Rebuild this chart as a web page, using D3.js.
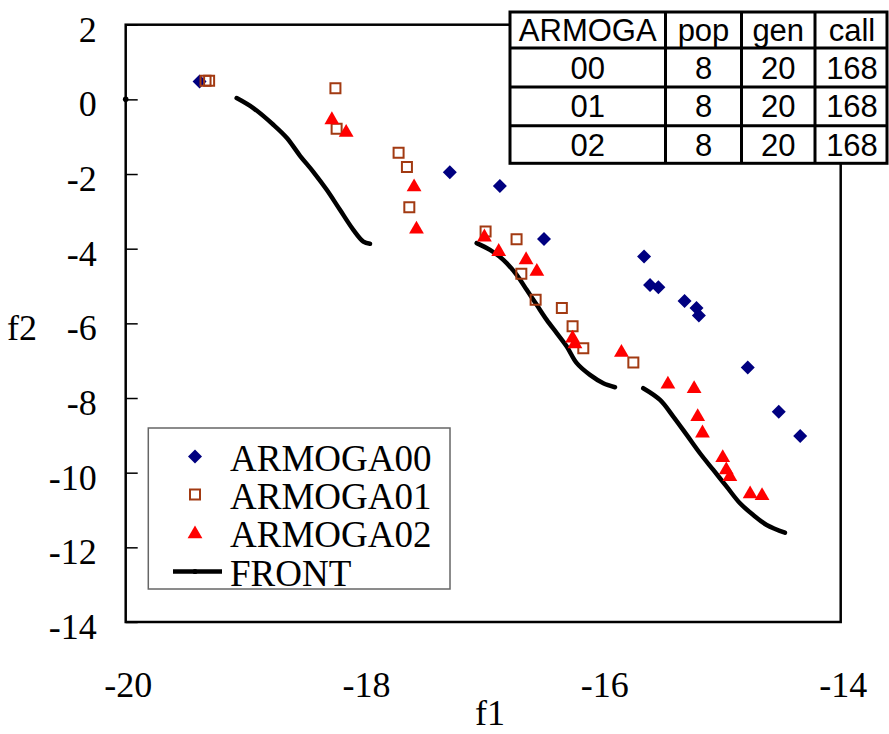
<!DOCTYPE html>
<html>
<head>
<meta charset="utf-8">
<script src="https://cdn.jsdelivr.net/npm/d3@7"></script>
<style>
  html, body { margin: 0; padding: 0; background: #fff; }
  svg { display: block; }
</style>
</head>
<body>
<svg id="chart" width="889" height="734"></svg>
<script>
// ---------------- data ----------------
const xTicks = [-20, -18, -16, -14];
const yTicks = [2, 0, -2, -4, -6, -8, -10, -12, -14];

const armoga00 = [
  [-19.38, 0.48], [-17.28, -1.95], [-16.86, -2.32], [-16.49, -3.74],
  [-15.65, -4.21], [-15.60, -4.97], [-15.53, -5.03], [-15.31, -5.40],
  [-15.21, -5.59], [-15.19, -5.79], [-14.78, -7.18], [-14.52, -8.37],
  [-14.34, -9.02]
];
const armoga01 = [
  [-19.33, 0.50], [-19.30, 0.50], [-18.24, 0.30], [-18.23, -0.79],
  [-17.71, -1.43], [-17.64, -1.81], [-17.62, -2.89], [-16.98, -3.54],
  [-16.72, -3.75], [-16.68, -4.67], [-16.56, -5.37], [-16.34, -5.59],
  [-16.25, -6.08], [-16.16, -6.67], [-15.74, -7.05]
];
const armoga02 = [
  [-18.27, -0.55], [-18.15, -0.89], [-17.58, -2.35], [-17.56, -3.48],
  [-16.99, -3.69], [-16.87, -4.08], [-16.64, -4.30], [-16.55, -4.61],
  [-16.25, -6.40], [-16.23, -6.55], [-15.84, -6.78], [-15.45, -7.63],
  [-15.23, -7.75], [-15.20, -8.50], [-15.16, -8.94], [-14.99, -9.60],
  [-14.96, -9.93], [-14.93, -10.11], [-14.76, -10.57], [-14.66, -10.62]
];
const front1 = [
  [-19.069, 0.035], [-18.929, -0.233], [-18.761, -0.680], [-18.649, -1.029],
  [-18.537, -1.511], [-18.426, -1.940], [-18.313, -2.422], [-18.202, -2.958],
  [-18.090, -3.494], [-18.006, -3.808], [-17.950, -3.870]
];
const front2 = [
  [-17.055, -3.851], [-16.943, -4.031], [-16.831, -4.299], [-16.719, -4.701],
  [-16.635, -5.103], [-16.551, -5.505], [-16.467, -5.907], [-16.383, -6.263],
  [-16.299, -6.622], [-16.215, -7.067], [-16.104, -7.381], [-15.992, -7.603],
  [-15.894, -7.711]
];
const front3 = [
  [-15.657, -7.737], [-15.516, -8.051], [-15.405, -8.498], [-15.292, -8.989],
  [-15.181, -9.480], [-15.069, -9.927], [-14.957, -10.375], [-14.845, -10.820],
  [-14.734, -11.133], [-14.621, -11.401], [-14.468, -11.608]
];
const frontStray = [[-20, 0]];

const legendLabels = ["ARMOGA00", "ARMOGA01", "ARMOGA02", "FRONT"];

const tableHeader = ["ARMOGA", "pop", "gen", "call"];
const tableRows = [
  ["00", "8", "20", "168"],
  ["01", "8", "20", "168"],
  ["02", "8", "20", "168"]
];

// ---------------- drawing ----------------
const svg = d3.select("#chart");
const serif = "'Liberation Serif', 'Times New Roman', serif";
const sans = "'Liberation Sans', Arial, sans-serif";

const L = 125.7, R = 840.7, T = 24.7, B = 622;
const x = d3.scaleLinear().domain([-20, -14]).range([L, R]);
const y = d3.scaleLinear().domain([-14, 2]).range([B, T]);

const navy = "#000080", brown = "#A23A12", red = "#FF0000";

// frame
svg.append("rect")
  .attr("x", L).attr("y", T).attr("width", R - L).attr("height", B - T)
  .attr("fill", "none").attr("stroke", "#000").attr("stroke-width", 2.5);

// y axis
const yAxis = d3.axisLeft(y).tickValues(yTicks).tickSizeInner(-12).tickSizeOuter(0).tickPadding(29)
  .tickFormat(d3.format("d"));
const gy = svg.append("g").attr("transform", `translate(${L},0)`).call(yAxis);
gy.select(".domain").remove();
gy.selectAll(".tick line").attr("stroke", "#000").attr("stroke-width", 1.5);
gy.selectAll(".tick text")
  .attr("font-family", serif).attr("font-size", 36).attr("fill", "#000")
  .attr("dy", 0).attr("y", 16.5)
  .text(d => d < 0 ? "-" + Math.abs(d) : d);

// x axis
const xAxis = d3.axisBottom(x).tickValues(xTicks).tickSize(0).tickPadding(0);
const gx = svg.append("g").attr("transform", `translate(0,${B})`).call(xAxis);
gx.select(".domain").remove();
gx.selectAll(".tick text")
  .attr("font-family", serif).attr("font-size", 36).attr("fill", "#000")
  .attr("dy", 0).attr("y", 75).attr("dx", 2)
  .text(d => d < 0 ? "-" + Math.abs(d) : d);

// axis titles
svg.append("text").attr("x", 490).attr("y", 725).attr("text-anchor", "middle")
  .attr("font-family", serif).attr("font-size", 36).text("f1");
svg.append("text").attr("x", 22).attr("y", 340).attr("text-anchor", "middle")
  .attr("font-family", serif).attr("font-size", 36).text("f2");

// front lines
const line = d3.line().x(d => x(d[0])).y(d => y(d[1])).curve(d3.curveCatmullRom);
[front1, front2, front3].forEach(seg => {
  svg.append("path").datum(seg).attr("d", line)
    .attr("fill", "none").attr("stroke", "#000").attr("stroke-width", 4.5)
    .attr("stroke-linecap", "round").attr("stroke-linejoin", "round");
});
svg.selectAll(".stray").data(frontStray).join("circle")
  .attr("cx", d => x(d[0])).attr("cy", d => y(d[1])).attr("r", 2.8).attr("fill", "#000");

// symbols
const diamond = d3.symbol().type(d3.symbolDiamond2 || d3.symbolDiamond).size(98);
const diamondPath = "M0,-7L7,0L0,7L-7,0Z";
const squarePath = "M-5,-5L5,-5L5,5L-5,5Z";
const tri = d3.symbol().type(d3.symbolTriangle).size(95);

svg.append("g").selectAll("path").data(armoga00).join("path")
  .attr("transform", d => `translate(${x(d[0])},${y(d[1])})`)
  .attr("d", diamondPath).attr("fill", navy);

svg.append("g").selectAll("path").data(armoga01).join("path")
  .attr("transform", d => `translate(${x(d[0])},${y(d[1])})`)
  .attr("d", squarePath).attr("fill", "none").attr("stroke", brown).attr("stroke-width", 2);

svg.append("g").selectAll("path").data(armoga02).join("path")
  .attr("transform", d => `translate(${x(d[0])},${y(d[1])})`)
  .attr("d", tri).attr("fill", red);

// legend
const lg = svg.append("g");
lg.append("rect").attr("x", 148.3).attr("y", 428).attr("width", 301.7).attr("height", 161)
  .attr("fill", "#fff").attr("stroke", "#666").attr("stroke-width", 1.5);
const baselines = [471, 509, 547, 586];
lg.selectAll("text").data(legendLabels).join("text")
  .attr("x", 230).attr("y", (d, i) => baselines[i])
  .attr("font-family", serif).attr("font-size", 37).attr("fill", "#000").text(d => d);
const sx = 195;
lg.append("path").attr("transform", `translate(${sx},${baselines[0] - 14.5})`).attr("d", diamondPath).attr("fill", navy);
lg.append("path").attr("transform", `translate(${sx},${baselines[1] - 14.5})`).attr("d", squarePath)
  .attr("fill", "none").attr("stroke", brown).attr("stroke-width", 2);
lg.append("path").attr("transform", `translate(${sx},${baselines[2] - 13})`).attr("d", tri).attr("fill", red);
lg.append("line").attr("x1", 173).attr("x2", 222).attr("y1", baselines[3] - 14.5).attr("y2", baselines[3] - 14.5)
  .attr("stroke", "#000").attr("stroke-width", 4.5);
lg.append("circle").attr("cx", sx).attr("cy", baselines[3] - 14.5).attr("r", 2.6).attr("fill", "#000");

// table
const colX = [510, 665.5, 741.5, 815, 887];
const rowY = [12, 48, 87, 125.7, 163.3];
const tg = svg.append("g");
tg.append("rect").attr("x", colX[0]).attr("y", rowY[0])
  .attr("width", colX[4] - colX[0]).attr("height", rowY[4] - rowY[0])
  .attr("fill", "#fff").attr("stroke", "#000").attr("stroke-width", 3);
colX.slice(1, 4).forEach(cx => tg.append("line").attr("x1", cx).attr("x2", cx)
  .attr("y1", rowY[0]).attr("y2", rowY[4]).attr("stroke", "#000").attr("stroke-width", 3));
rowY.slice(1, 4).forEach(ry => tg.append("line").attr("x1", colX[0]).attr("x2", colX[4])
  .attr("y1", ry).attr("y2", ry).attr("stroke", "#000").attr("stroke-width", 3));
const allRows = [tableHeader].concat(tableRows);
allRows.forEach((row, ri) => {
  row.forEach((cell, ci) => {
    tg.append("text")
      .attr("x", (colX[ci] + colX[ci + 1]) / 2 + (ci === 3 ? 1 : 0))
      .attr("y", (rowY[ri] + rowY[ri + 1]) / 2 + 11)
      .attr("text-anchor", "middle")
      .attr("font-family", sans).attr("font-size", 31).attr("fill", "#000")
      .text(cell);
  });
});
</script>
</body>
</html>
